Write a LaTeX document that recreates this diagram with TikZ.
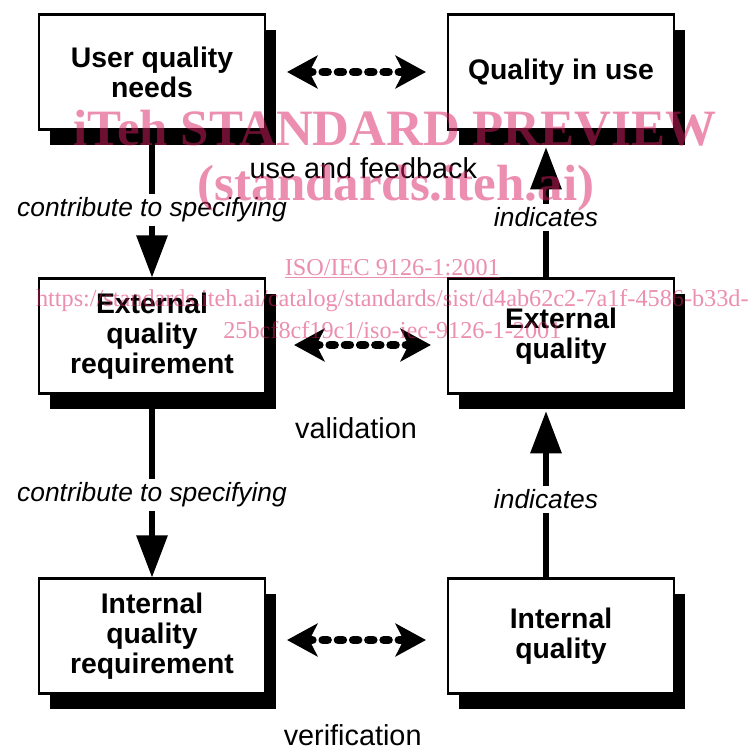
\documentclass[tikz,border=0pt]{standalone}
\usepackage{fontspec}
\setmainfont{Liberation Sans}
\newfontfamily\stampfont{Liberation Serif}
\usepackage{xcolor}
\usepackage{tikz}
\usetikzlibrary{positioning, calc, arrows.meta, shadows}
\definecolor{stamp}{RGB}{216,30,98}

\begin{document}
\begin{tikzpicture}
	\tikzstyle{qualitybox}=[rectangle, draw=black, line width=1.8pt, fill=white, minimum width=6.78cm, minimum height=3.45cm, align=center, font=\fontsize{24.2}{25.6}\selectfont\bfseries, drop shadow={shadow xshift=0.32cm, shadow yshift=-0.46cm, fill=black, opacity=1}]
	\tikzstyle{relation}=[line width=4.3pt, -{Triangle[length=36pt, width=26pt]}]
	\tikzstyle{exchange}=[line width=7.5pt, dash pattern=on 4pt off 9pt, line cap=round, {Stealth[length=26pt, width=28pt, inset=7pt]}-{Stealth[length=26pt, width=28pt, inset=7pt]}]
	\tikzstyle{relationlabel}=[fill=white, inner sep=3pt, font=\fontsize{22.5}{24}\selectfont\itshape]
	\tikzstyle{notelabel}=[font=\fontsize{24.6}{26}\selectfont]
	\tikzstyle{stamptext}=[text=stamp, text opacity=0.5, align=center]

	\useasboundingbox (0cm, 0cm) rectangle (22.44cm, -22.41cm);

	\node[qualitybox] (userneeds) at (4.56cm, -2.16cm) {User quality\\needs};
	\node[qualitybox] (inuse) at (16.83cm, -2.16cm) {Quality in use};
	\node[qualitybox] (extreq) at (4.56cm, -10.08cm) {External\\quality\\requirement};
	\node[qualitybox] (extqual) at (16.83cm, -10.08cm) {External\\quality};
	\node[qualitybox] (intreq) at (4.56cm, -19.08cm) {Internal\\quality\\requirement};
	\node[qualitybox] (intqual) at (16.83cm, -19.08cm) {Internal\\quality};

	\draw[relation] (userneeds.south) -- node[relationlabel, pos=0.54] {contribute to specifying} (extreq.north);
	\draw[relation] (extreq.south) -- node[relationlabel, pos=0.55] {contribute to specifying} (intreq.north);
	\draw[relation] ([xshift=-0.45cm]intqual.north) -- node[relationlabel, pos=0.47] {indicates} ([xshift=-0.45cm, yshift=-0.5cm]extqual.south);
	\draw[relation] ([xshift=-0.45cm]extqual.north) -- node[relationlabel, pos=0.46] {indicates} ([xshift=-0.45cm, yshift=-0.5cm]inuse.south);

	\foreach \src/\dst/\shift/\gapa/\gapb in {userneeds/inuse/0cm/0.63cm/0.63cm, extreq/extqual/-0.27cm/0.84cm/0.48cm, intreq/intqual/-0.12cm/0.63cm/0.63cm}{
		\draw[exchange, shorten <=\gapa, shorten >=\gapb] ([yshift=\shift]\src.east) -- ([yshift=\shift]\dst.west);
	}

	\node[notelabel] (feedback-description) at (10.9cm, -5.04cm) {use and feedback};
	\node[notelabel] (validation-description) at (10.68cm, -12.84cm) {validation};
	\node[notelabel] (verification-description) at (10.58cm, -22.05cm) {verification};

	\node[stamptext, font=\stampfont\bfseries\fontsize{43.5}{45}\selectfont] (stamp-title) at (11.85cm, -3.84cm) {iTeh STANDARD PREVIEW};
	\node[stamptext, font=\stampfont\bfseries\fontsize{43.5}{45}\selectfont] (stamp-site) at (11.88cm, -5.64cm) {(standards.iteh.ai)};
	\node[stamptext, font=\stampfont\fontsize{20.7}{26.9}\selectfont] (stamp-link) at (11.77cm, -8.96cm) {\underline{ISO/IEC 9126-1:2001}\\https://standards.iteh.ai/catalog/standards/sist/d4ab62c2-7a1f-4586-b33d-\\25bcf8cf19c1/iso-iec-9126-1-2001};
\end{tikzpicture}
\end{document}
